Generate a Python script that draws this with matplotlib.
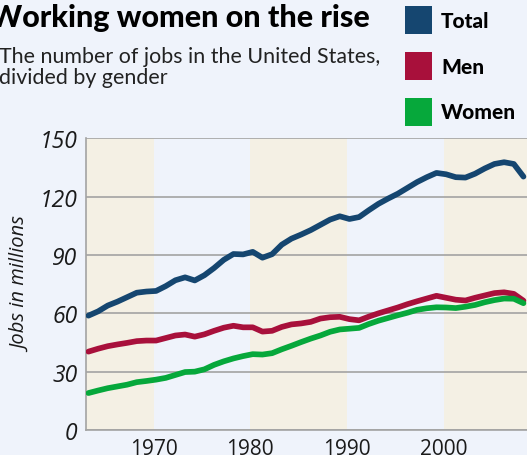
import matplotlib.pyplot as plt
from matplotlib.patches import Rectangle
import numpy as np

# data (millions of jobs)
years = list(range(1964, 2010))
total = [58.8, 61.0, 64.0, 66.0, 68.3, 70.6, 71.2, 71.5, 74.0, 77.0,
         78.5, 76.9, 79.6, 83.3, 87.5, 90.5, 90.3, 91.6, 88.6, 90.4,
         95.3, 98.4, 100.5, 102.8, 105.5, 108.2, 109.9, 108.5, 109.5, 113.0,
         116.3, 119.0, 121.5, 124.5, 127.5, 130.0, 132.2, 131.5, 130.0, 129.8,
         131.8, 134.5, 136.8, 137.7, 136.8, 130.3]
men = [40.3, 41.8, 43.1, 44.0, 44.8, 45.7, 46.0, 46.0, 47.3, 48.6,
       49.1, 48.0, 49.2, 51.0, 52.6, 53.6, 52.8, 52.8, 50.6, 51.0,
       53.0, 54.3, 54.8, 55.6, 57.3, 58.0, 58.2, 57.0, 56.4, 58.3,
       60.0, 61.5, 63.0, 64.7, 66.2, 67.6, 69.0, 68.0, 67.0, 66.6,
       68.0, 69.2, 70.4, 70.8, 70.0, 66.5]
women = [19.0, 20.3, 21.5, 22.4, 23.3, 24.6, 25.2, 25.9, 26.8, 28.3,
         29.8, 30.0, 31.2, 33.5, 35.3, 36.8, 38.0, 39.0, 38.8, 39.5,
         41.5, 43.3, 45.2, 47.0, 48.6, 50.5, 51.7, 52.1, 52.5, 54.5,
         56.2, 57.6, 59.0, 60.3, 61.8, 62.6, 63.1, 63.0, 62.7, 63.4,
         64.3, 65.7, 66.8, 67.6, 67.5, 65.2]
series_names = ['Total', 'Men', 'Women']
series_colors = ['#154670', '#a8103b', '#06a83b']
decade_ticks = [1970, 1980, 1990, 2000]
y_ticks = [0, 30, 60, 90, 120, 150]
# shaded decades
bands = [(1963, 1970), (1980, 1990), (2000, 2009)]

bg = '#eff3fb'
band_color = '#f4f0e4'
grid_color = '#a3a3a3'

fig = plt.figure(figsize=(5.27, 4.56), dpi=100, facecolor=bg)
ax = fig.add_axes([86 / 527, 25 / 456, 444.7 / 527, 291.7 / 456])
ax.set_facecolor(bg)

for b0, b1 in bands:
    ax.axvspan(b0, b1, color=band_color, lw=0, zorder=0)

# each yearly value sits a bit before its tick in the original
x = np.array(years) - 0.75
for vals, col in zip([total, men, women], series_colors):
    ax.plot(x, vals, color=col, lw=4.1, solid_joinstyle='round',
            solid_capstyle='round', zorder=3)

ax.set_xlim(1963, 2009)
ax.set_ylim(0, 150)
ax.set_yticks(y_ticks)
ax.set_xticks(decade_ticks)
ax.yaxis.grid(True, color=grid_color, lw=1.2, zorder=1)
ax.set_axisbelow(True)
for s in ['top', 'right']:
    ax.spines[s].set_visible(False)
for s in ['left', 'bottom']:
    ax.spines[s].set_color(grid_color)
    ax.spines[s].set_linewidth(1.2)
ax.tick_params(length=0)
ax.tick_params(axis='y', pad=6)
ax.tick_params(axis='x', pad=6)
for lab in ax.get_yticklabels():
    lab.set_fontfamily('Open Sans')
    lab.set_fontstyle('italic')
    lab.set_fontsize(16.5)
    lab.set_color('#1a1a1a')
for lab in ax.get_xticklabels():
    lab.set_fontfamily('Open Sans')
    lab.set_fontsize(15)
    lab.set_color('#1a1a1a')

ax.set_ylabel('Jobs in millions', fontfamily='Open Sans', fontstyle='italic',
              fontsize=14.5, color='#1a1a1a', labelpad=6)

# title and subtitle
fig.text(-10 / 527, 1 - 27 / 456, 'Working women on the rise', fontfamily='Lato',
         fontweight='black', fontsize=22, color='#000000', va='baseline')
fig.text(-1 / 527, 1 - 63 / 456, 'The number of jobs in the United States,',
         fontfamily='Lato', fontsize=15.4, color='#222222', va='baseline')
fig.text(-1 / 527, 1 - 84 / 456, 'divided by gender',
         fontfamily='Lato', fontsize=15.4, color='#222222', va='baseline')

# legend squares
for i, (name, col) in enumerate(zip(series_names, series_colors)):
    top = 7 + i * 46
    fig.patches.append(Rectangle((405 / 527, 1 - (top + 28) / 456), 27 / 527, 28 / 456,
                                 transform=fig.transFigure, color=col, lw=0))
    fig.text(441 / 527, 1 - (top + 14) / 456, name, fontfamily='Lato',
             fontweight='black', fontsize=15, color='#000000', va='center')

fig.savefig('out.png', dpi=100, facecolor=bg)
